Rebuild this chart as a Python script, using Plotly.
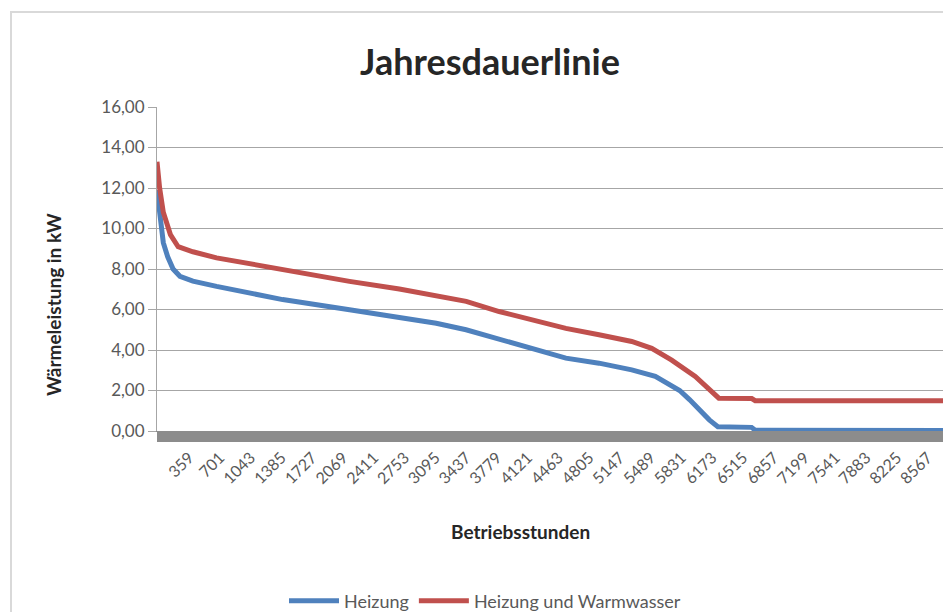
import plotly.graph_objects as go

# ---- data ----
hours_heizung = [1, 30, 71, 120, 180, 256, 400, 663, 1398, 2141, 2800, 3105, 3436, 3804, 4175, 4546, 4914,
                 5278, 5540, 5656, 5811, 5920, 6030, 6140, 6235, 6610, 6650, 8760]
heizung = [11.9, 10.6, 9.3, 8.6, 8.0, 7.64, 7.4, 7.14, 6.49, 5.99, 5.55, 5.32, 5.0, 4.52, 4.08, 3.6, 3.35,
           3.02, 2.7, 2.4, 2.0, 1.55, 1.04, 0.55, 0.21, 0.18, 0.04, 0.03]

hours_ww = [1, 30, 71, 150, 236, 400, 663, 1398, 2141, 2695, 3061, 3438, 3804, 4175, 4546, 4914, 5278,
            5500, 5655, 5722, 5984, 6120, 6246, 6612, 6650, 8760]
heizung_ww = [13.3, 12.0, 10.8, 9.7, 9.1, 8.85, 8.55, 7.97, 7.39, 7.01, 6.72, 6.4, 5.9, 5.5, 5.07, 4.75, 4.42,
              4.08, 3.67, 3.5, 2.69, 2.15, 1.62, 1.6, 1.5, 1.5]

x_tick_vals = [359, 701, 1043, 1385, 1727, 2069, 2411, 2753, 3095, 3437, 3779, 4121, 4463,
               4805, 5147, 5489, 5831, 6173, 6515, 6857, 7199, 7541, 7883, 8225, 8567]
x_tick_text = [str(v) for v in x_tick_vals]
y_tick_vals = [0, 2, 4, 6, 8, 10, 12, 14, 16]

title_text = "Jahresdauerlinie"
x_title = "Betriebsstunden"
y_title = "Wärmeleistung in kW"
series_names = ["Heizung", "Heizung und Warmwasser"]

# ---- styles ----
BLUE = "#4F81BD"
RED = "#C0504D"
FONT = "Lato, 'Open Sans', sans-serif"
TXT = "#595959"
DARK = "#262626"

fig = go.Figure()
fig.add_trace(go.Scatter(x=hours_heizung, y=heizung, mode="lines", name=series_names[0],
                         line=dict(color=BLUE, width=5)))
fig.add_trace(go.Scatter(x=hours_ww, y=heizung_ww, mode="lines", name=series_names[1],
                         line=dict(color=RED, width=5)))

# page has an 8px body margin; figure coordinates = page coordinates - 8
OFF = 8
W, H = 951 - OFF, 612 - OFF
PL, PR, PT, PB = 157, 945, 107, 431  # plot area in page pixels
L, R, T, B = PL - OFF, W - (PR - OFF), PT - OFF, H - (PB - OFF)
pw, ph = W - L - R, H - T - B

def px_x(p):  # page pixel -> paper
    return (p - OFF - L) / pw

def px_y(p):
    return (H - B - (p - OFF)) / ph

fig.update_layout(
    width=W, height=H,
    margin=dict(l=L, r=R, t=T, b=B),
    paper_bgcolor="white", plot_bgcolor="white",
    separators=",.",
    font=dict(family=FONT, color=TXT, size=16),
    title=dict(text="<b>" + title_text + "</b>", x=(490 - OFF) / W, xref="container", xanchor="center",
               y=1 - (62 - OFF) / H, yref="container", yanchor="middle",
               font=dict(family=FONT, size=36, color=DARK)),
    showlegend=True,
    legend=dict(orientation="h", xref="container", yref="container",
                x=(485 - OFF) / W, xanchor="center", y=1 - (601 - OFF) / H, yanchor="middle",
                font=dict(family=FONT, size=18, color=TXT), itemwidth=50,
                bgcolor="rgba(0,0,0,0)"),
    xaxis=dict(
        range=[1, 8760], showgrid=False, zeroline=False,
        showline=True, linecolor="#8c8c8c", linewidth=1,
        tickmode="array", tickvals=x_tick_vals, ticktext=x_tick_text,
        tickangle=-45, ticks="outside", ticklen=10, tickcolor="#8c8c8c", tickwidth=1,
        tickfont=dict(family=FONT, size=16, color=TXT),
        minor=dict(ticks="outside", dtick=10, tick0=1, ticklen=10, tickcolor="#8c8c8c", tickwidth=1, showgrid=False),
    ),
    yaxis=dict(
        range=[0, 16], tickvals=y_tick_vals, tickformat=".2f",
        showgrid=True, gridcolor="#a6a6a6", gridwidth=1, zeroline=False,
        showline=True, linecolor="#a6a6a6", linewidth=1,
        ticks="outside", ticklen=8, tickcolor="#a6a6a6",
        tickfont=dict(family=FONT, size=17, color=TXT),
    ),
    annotations=[
        dict(text="<b>" + x_title + "</b>", xref="paper", yref="paper",
             x=px_x(520), y=px_y(531), showarrow=False, xanchor="center", yanchor="middle",
             font=dict(family=FONT, size=19, color=DARK)),
        dict(text="<b>" + y_title + "</b>", xref="paper", yref="paper",
             x=px_x(53), y=px_y(305), showarrow=False, textangle=-90,
             xanchor="center", yanchor="middle",
             font=dict(family=FONT, size=19, color=DARK)),
    ],
    shapes=[
        dict(type="rect", xref="paper", yref="paper",
             x0=px_x(11), x1=px_x(980), y0=px_y(640), y1=px_y(12),
             line=dict(color="#d9d9d9", width=2), fillcolor="rgba(0,0,0,0)", layer="below"),
    ],
)

fig.write_html("out.html")
